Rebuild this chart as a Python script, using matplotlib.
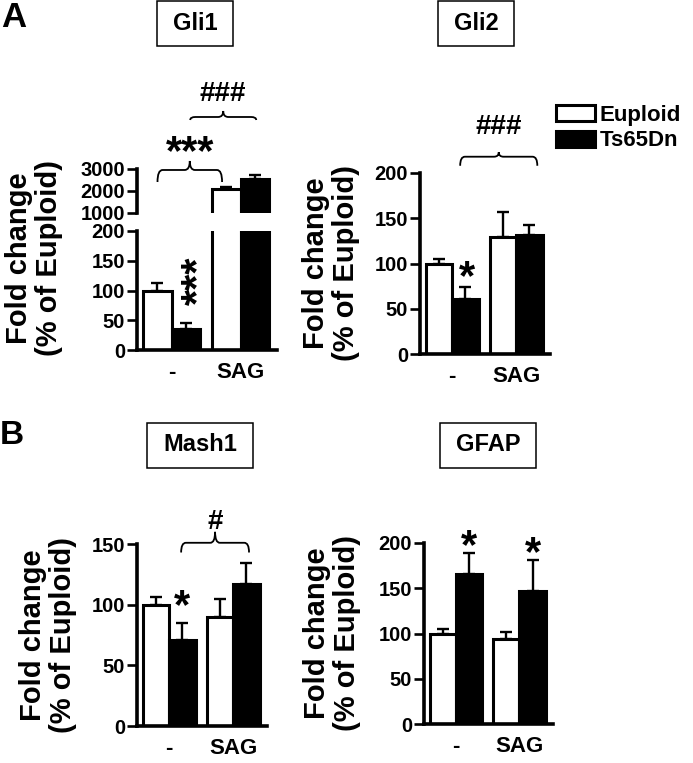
import numpy as np
import matplotlib
matplotlib.use('Agg')
import matplotlib.pyplot as plt
from matplotlib.path import Path
from matplotlib.patches import PathPatch, Rectangle

plt.rcParams['font.family'] = ['Liberation Sans', 'DejaVu Sans']
plt.rcParams['font.weight'] = 'bold'

# data (percent of euploid, mean and upper SEM)
groups = ['-', 'SAG']
series = ['Euploid', 'Ts65Dn']

gli1_eup = [100, 2080]
gli1_eup_err = [13, 90]
gli1_ts = [36, 2550]
gli1_ts_err = [9, 165]

gli2_eup = [100, 129]
gli2_eup_err = [5, 28]
gli2_ts = [61, 131]
gli2_ts_err = [13, 12]

mash1_eup = [100, 90]
mash1_eup_err = [6, 15]
mash1_ts = [71, 117]
mash1_ts_err = [14, 17]

gfap_eup = [100, 94]
gfap_eup_err = [5, 8]
gfap_ts = [166, 147]
gfap_ts_err = [23, 34]

W, H = 693, 763
fig = plt.figure(figsize=(W / 100, H / 100), dpi=100)

GAP = 0.42
x_eup = np.array([0.5, 1.5 + GAP + 1.0])
x_ts = x_eup + 1.0
x_grp = (x_eup + x_ts) / 2
XLIM = (-0.22, 4.7)


def px_axes(x0, y0, x1, y1):
    return fig.add_axes([x0 / W, 1 - y1 / H, (x1 - x0) / W, (y1 - y0) / H])


def style(ax, ylim, yticks, bottom=True):
    ax.set_xlim(*XLIM)
    ax.set_ylim(*ylim)
    ax.set_yticks(yticks)
    for s in ['top', 'right']:
        ax.spines[s].set_visible(False)
    ax.spines['left'].set_linewidth(2.6)
    ax.spines['bottom'].set_linewidth(2.6)
    ax.tick_params(axis='y', length=7, width=1.9, pad=1.5, labelsize=14.5)
    if bottom:
        ax.set_xticks(x_grp)
        ax.set_xticklabels(groups, fontsize=16, fontweight='bold')
        ax.tick_params(axis='x', length=0, pad=9)
    else:
        ax.spines['bottom'].set_visible(False)
        ax.set_xticks([])
    ax.patch.set_alpha(0)


def bars(ax, eup, eup_err, ts, ts_err):
    b1 = ax.bar(x_eup, eup, width=1.0, color='white', edgecolor='black',
                linewidth=2.2, label=series[0], zorder=2)
    b2 = ax.bar(x_ts, ts, width=1.0, color='black', edgecolor='black',
                linewidth=2.2, label=series[1], zorder=2)
    for x, y, e in [(x_eup, eup, eup_err), (x_ts, ts, ts_err)]:
        ax.errorbar(x, y, yerr=[np.zeros(len(e)), e], fmt='none', ecolor='black',
                    elinewidth=1.7, capsize=4.5, capthick=1.7, zorder=1)
    return b1, b2


def brace(ax, x1, x2, y_end, y_line, y_peak, q=0.18):
    xm = (x1 + x2) / 2
    verts = [(x1, y_end), (x1, y_line), (x1 + q, y_line),
             (xm - q, y_line),
             (xm, y_line), (xm, y_peak),
             (xm, y_line), (xm + q, y_line),
             (x2 - q, y_line),
             (x2, y_line), (x2, y_end)]
    codes = [Path.MOVETO, Path.CURVE3, Path.CURVE3,
             Path.LINETO,
             Path.CURVE3, Path.CURVE3,
             Path.CURVE3, Path.CURVE3,
             Path.LINETO,
             Path.CURVE3, Path.CURVE3]
    ax.add_patch(PathPatch(Path(verts, codes), fill=False, lw=1.3,
                           edgecolor='black', clip_on=False))


def mark(ax, x, y, txt, fs, rise=0.58, vertical=False):
    # place the glyph centre at (x, y)
    if vertical:
        ax.annotate(txt, xy=(x, y), xytext=(rise * fs, 0), textcoords='offset points',
                    ha='center', va='baseline', rotation=90, rotation_mode='anchor',
                    fontsize=fs, fontweight='bold', annotation_clip=False)
    else:
        ax.annotate(txt, xy=(x, y), xytext=(0, -rise * fs), textcoords='offset points',
                    ha='center', va='baseline', fontsize=fs, fontweight='bold',
                    annotation_clip=False)


def ylabel(xc, yc):
    fig.text(xc / W, 1 - yc / H, 'Fold change\n(% of Euploid)', rotation=90,
             ha='center', va='center', multialignment='center',
             fontsize=21, fontweight='bold', linespacing=1.05)


# ---- Gli1 (broken axis) ----
ax_lo = px_axes(137, 231, 277, 350)
ax_hi = px_axes(137, 169, 277, 213)
bars(ax_lo, gli1_eup, gli1_eup_err, gli1_ts, gli1_ts_err)
bars(ax_hi, gli1_eup, gli1_eup_err, gli1_ts, gli1_ts_err)
style(ax_lo, (0, 200), [0, 50, 100, 150, 200])
style(ax_hi, (1000, 3000), [1000, 2000, 3000], bottom=False)
mark(ax_lo, x_ts[0], 116, '***', 30, vertical=True)
brace(ax_hi, x_eup[0], x_eup[1] - 0.15, 2409, 2955, 3364)
mark(ax_hi, (x_eup[0] + x_eup[1] - 0.15) / 2, 4318, '***', 30)
brace(ax_hi, x_ts[0] + 0.15, x_ts[1] + 0.05, 5227, 5364, 5636)
mark(ax_hi, (x_ts[0] + x_ts[1] + 0.2) / 2, 6545, '###', 20, rise=0.36)
ylabel(34, 258)

# ---- Gli2 ----
ax2 = px_axes(420, 173, 550, 354)
b1, b2 = bars(ax2, gli2_eup, gli2_eup_err, gli2_ts, gli2_ts_err)
style(ax2, (0, 200), [0, 50, 100, 150, 200])
mark(ax2, x_ts[0] + 0.05, 98, '*', 30)
brace(ax2, x_ts[0] - 0.2, x_ts[1] + 0.3, 208, 218, 223)
mark(ax2, (x_ts[0] + x_ts[1] + 0.1) / 2, 254, '###', 20, rise=0.36)
ylabel(331, 263)
fig.legend([b1, b2], series, loc='upper left', bbox_to_anchor=(556 / W, 1 - 105 / H),
           frameon=False, borderpad=0, borderaxespad=0,
           handlelength=1.75, handleheight=0.75, handletextpad=0.2, labelspacing=0.2,
           prop={'weight': 'bold', 'size': 16})

# ---- Mash1 ----
ax3 = px_axes(137, 544, 267, 726)
bars(ax3, mash1_eup, mash1_eup_err, mash1_ts, mash1_ts_err)
style(ax3, (0, 150), [0, 50, 100, 150])
mark(ax3, x_ts[0], 109, '*', 30)
brace(ax3, x_ts[0] - 0.05, x_ts[1] + 0.1, 143, 151, 160)
mark(ax3, (x_ts[0] + x_ts[1] + 0.05) / 2, 171, '#', 20, rise=0.36)
ylabel(48, 635)

# ---- GFAP ----
ax4 = px_axes(424, 543, 553, 724)
bars(ax4, gfap_eup, gfap_eup_err, gfap_ts, gfap_ts_err)
style(ax4, (0, 200), [0, 50, 100, 150, 200])
mark(ax4, x_ts[0], 210, '*', 30)
mark(ax4, x_ts[1], 202, '*', 30)
ylabel(332, 633)

# ---- titles in boxes and panel letters ----
titles = [('Gli1', 195, 23.5), ('Gli2', 476, 23.5), ('Mash1', 200, 445), ('GFAP', 488, 445)]
title_texts = []
for name, cx, cy in titles:
    t = fig.text(cx / W, 1 - cy / H, name, ha='center', va='center',
                 fontsize=17, fontweight='bold')
    title_texts.append((t, cx, cy))
fig.canvas.draw()
r = fig.canvas.get_renderer()
for t, cx, cy in title_texts:
    bb = t.get_window_extent(r)
    bw = bb.width + 32
    bh = 45
    fig.patches.append(Rectangle(((cx - bw / 2) / W, 1 - (cy + bh / 2) / H), bw / W, bh / H,
                                 transform=fig.transFigure, fill=False,
                                 edgecolor='black', linewidth=1.1))

fig.text(1 / W, 1 - 1 / H, 'A', ha='left', va='top', fontsize=25, fontweight='bold')
fig.text(0 / W, 1 - 420 / H, 'B', ha='left', va='top', fontsize=24, fontweight='bold')

fig.savefig('out.png', dpi=100)
